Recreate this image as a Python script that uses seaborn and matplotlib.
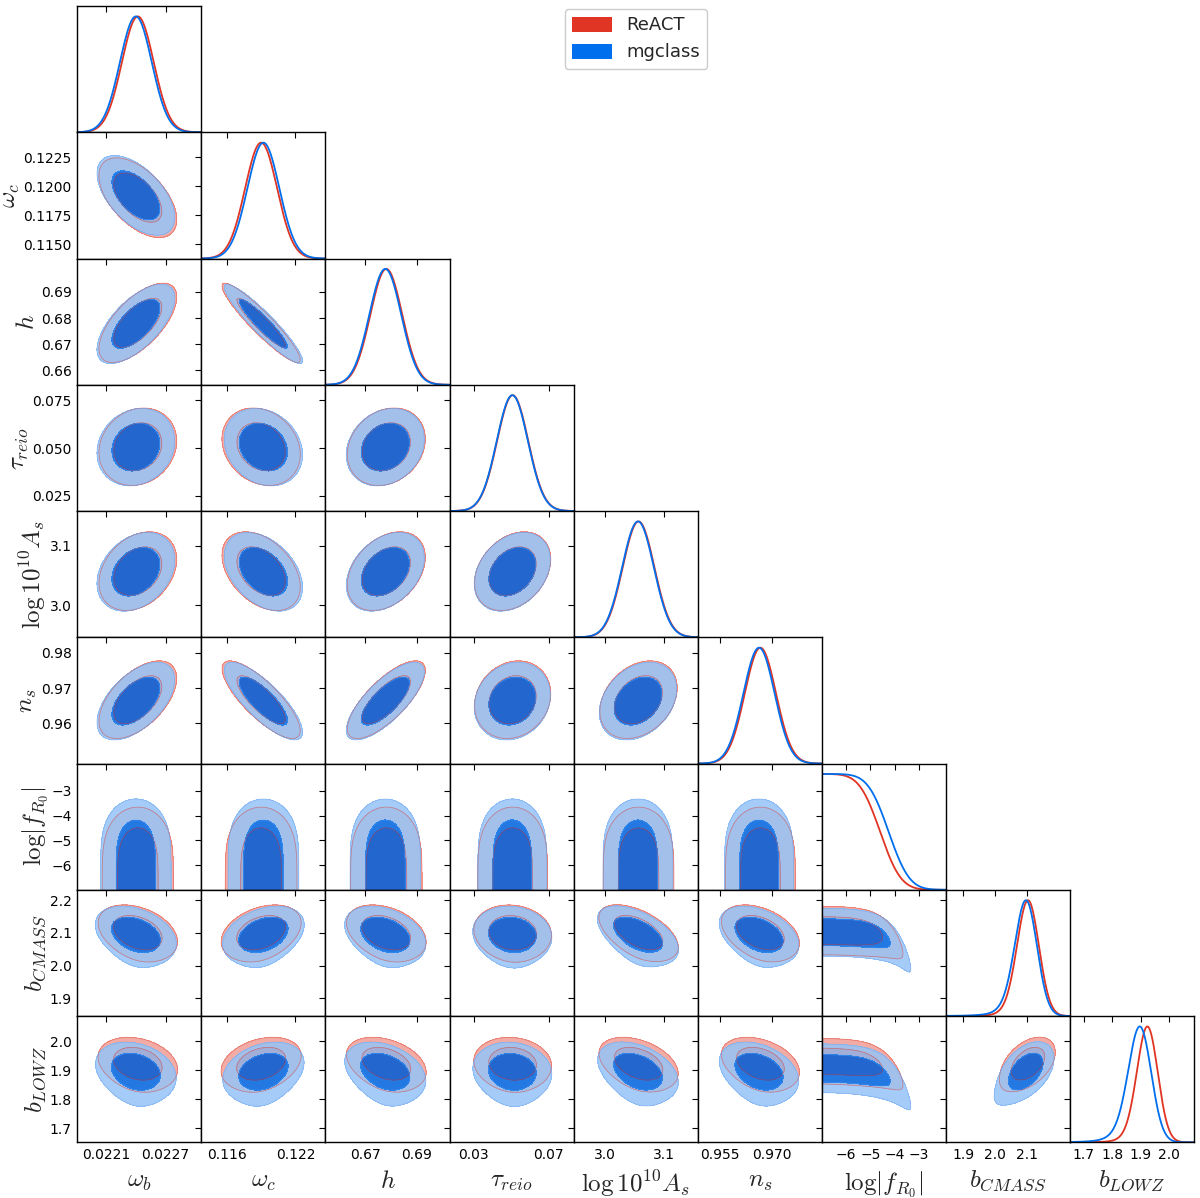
import math
import numpy as np
import matplotlib
matplotlib.use('Agg')
import matplotlib.pyplot as plt
from matplotlib.patches import Patch
import seaborn as sns

# parameter names, axis ranges and ticks
labels = [r'$\omega_b$', r'$\omega_c$', r'$h$', r'$\tau_{reio}$', r'$\log10^{10}A_s$',
          r'$n_s$', r'$\log|f_{R_0}|$', r'$b_{CMASS}$', r'$b_{LOWZ}$']
limits = [(0.02181, 0.02306), (0.11377, 0.12463), (0.6545, 0.7028), (0.0170, 0.0832),
          (2.946, 3.158), (0.9486, 0.9844), (-7.0, -1.9), (1.846, 2.232), (1.652, 2.086)]
xticks = [[0.0221, 0.0227], [0.116, 0.122], [0.67, 0.69], [0.03, 0.07], [3.0, 3.1],
          [0.955, 0.970], [-6, -5, -4, -3], [1.9, 2.0, 2.1], [1.7, 1.8, 1.9, 2.0]]
xticklabels = [['0.0221', '0.0227'], ['0.116', '0.122'], ['0.67', '0.69'], ['0.03', '0.07'],
               ['3.0', '3.1'], ['0.955', '0.970'], ['\u22126', '\u22125', '\u22124', '\u22123'],
               ['1.9', '2.0', '2.1'], ['1.7', '1.8', '1.9', '2.0']]
yticks = [[], [0.1150, 0.1175, 0.1200, 0.1225], [0.66, 0.67, 0.68, 0.69], [0.025, 0.050, 0.075],
          [3.0, 3.1], [0.96, 0.97, 0.98], [-6, -5, -4, -3], [1.9, 2.0, 2.1, 2.2], [1.7, 1.8, 1.9, 2.0]]
yticklabels = [[], ['0.1150', '0.1175', '0.1200', '0.1225'], ['0.66', '0.67', '0.68', '0.69'],
               ['0.025', '0.050', '0.075'], ['3.0', '3.1'], ['0.96', '0.97', '0.98'],
               ['\u22126', '\u22125', '\u22124', '\u22123'], ['1.9', '2.0', '2.1', '2.2'],
               ['1.7', '1.8', '1.9', '2.0']]

models = ['ReACT', 'mgclass']
line_colors = ['#E03424', '#006FED']
fill_colors = [('#F2ACA5', '#E03424'), ('#96C4F8', '#006FED')]
fill_alpha = [1.0, 0.85]

# posterior summaries (log|fR0| entry unused: it has its own profile below)
react_mean = [0.02242, 0.1190, 0.6782, 0.0507, 3.057, 0.9667, 0.0, 2.108, 1.932]
mgclass_mean = [0.02240, 0.1192, 0.6778, 0.0505, 3.056, 0.9663, 0.0, 2.103, 1.908]
react_sigma = [0.000160, 0.00140, 0.0062, 0.0083, 0.027, 0.0045, 1.0, 0.033, 0.035]
mgclass_sigma = [0.000160, 0.00140, 0.0062, 0.0083, 0.027, 0.0045, 1.0, 0.033, 0.038]

# log|fR0|: flat from the prior edge, falls to half at fr0_half
fr0_half = [-4.6, -4.25]
fr0_width = [0.95, 0.95]

# biases drift down as log|fR0| grows
bias_drop_react = [0.12, 0.13]
bias_drop_mgclass = [0.12, 0.14]
bias_drop_scale = [0.7, 0.8]
bias_drop_pivot = -3.3

corr = [
    [1.0],
    [-0.55, 1.0],
    [0.65, -0.93, 1.0],
    [0.15, -0.20, 0.20, 1.0],
    [0.30, -0.40, 0.35, 0.30, 1.0],
    [0.55, -0.80, 0.75, 0.15, 0.30, 1.0],
    [0.0, 0.0, 0.0, 0.0, 0.0, 0.0, 1.0],
    [-0.35, 0.35, -0.35, -0.10, -0.55, -0.40, 0.0, 1.0],
    [-0.25, 0.30, -0.35, -0.10, -0.40, -0.35, 0.0, 0.40, 1.0],
]

means = [react_mean, mgclass_mean]
sigmas = [react_sigma, mgclass_sigma]
drops = [bias_drop_react, bias_drop_mgclass]
FR = 6
BIAS = [7, 8]
n = len(labels)

erfc_v = np.vectorize(math.erfc)
f_grid = np.linspace(-7.0, -1.9, 140)


def fr0_profile(f, m):
    return 0.5 * erfc_v((f - fr0_half[m]) / fr0_width[m])


def cond_mean(k, f, m):
    mu = means[m][k]
    if k in BIAS:
        b = BIAS.index(k)
        mu = mu - drops[m][b] * np.exp((f - bias_drop_pivot) / bias_drop_scale[b])
    return mu


def density2d(i, j, m, X, Y):
    # x axis: parameter j, y axis: parameter i
    if j == FR:
        return fr0_profile(X, m) * np.exp(-0.5 * ((Y - cond_mean(i, X, m)) / sigmas[m][i]) ** 2)
    if i == FR:
        return fr0_profile(Y, m) * np.exp(-0.5 * ((X - cond_mean(j, Y, m)) / sigmas[m][j]) ** 2)
    r = corr[i][j]
    si, sj = sigmas[m][i], sigmas[m][j]
    if i not in BIAS and j not in BIAS:
        dx = (X - means[m][j]) / sj
        dy = (Y - means[m][i]) / si
        return np.exp(-0.5 * (dx * dx - 2 * r * dx * dy + dy * dy) / (1 - r * r))
    Z = np.zeros_like(X)
    for f, w in zip(f_grid, fr0_profile(f_grid, m)):
        dx = (X - cond_mean(j, f, m)) / sj
        dy = (Y - cond_mean(i, f, m)) / si
        Z += w * np.exp(-0.5 * (dx * dx - 2 * r * dx * dy + dy * dy) / (1 - r * r))
    return Z


def density1d(k, m, x):
    if k == FR:
        return fr0_profile(x, m)
    if k not in BIAS:
        return np.exp(-0.5 * ((x - means[m][k]) / sigmas[m][k]) ** 2)
    p = np.zeros_like(x)
    for f, w in zip(f_grid, fr0_profile(f_grid, m)):
        p += w * np.exp(-0.5 * ((x - cond_mean(k, f, m)) / sigmas[m][k]) ** 2)
    return p


def contour_levels(Z, fracs=(0.95, 0.68)):
    z = np.sort(Z.ravel())[::-1]
    c = np.cumsum(z)
    c /= c[-1]
    return [z[min(np.searchsorted(c, fr), len(z) - 1)] for fr in fracs]


sns.set_theme(style='white')
plt.rcParams['font.family'] = ['DejaVu Sans']
plt.rcParams['mathtext.fontset'] = 'cm'
plt.rcParams['axes.edgecolor'] = 'black'
plt.rcParams['axes.linewidth'] = 1.0
plt.rcParams['xtick.labelsize'] = 10
plt.rcParams['ytick.labelsize'] = 10

fig, axes = plt.subplots(n, n, figsize=(12, 11.98), dpi=100)
fig.subplots_adjust(left=0.0644, right=0.995, top=0.995, bottom=0.0465, wspace=0, hspace=0)

for i in range(n):
    for j in range(n):
        ax = axes[i, j]
        if j > i:
            ax.axis('off')
            continue
        ax.set_xlim(limits[j])
        if i == j:
            x = np.linspace(limits[j][0], limits[j][1], 400)
            for m in range(2):
                p = density1d(j, m, x)
                sns.lineplot(x=x, y=p / p.max(), ax=ax, color=line_colors[m], lw=1.3)
            ax.set_ylim(0, 1.09)
            ax.set_yticks([])
        else:
            X, Y = np.meshgrid(np.linspace(limits[j][0], limits[j][1], 150),
                               np.linspace(limits[i][0], limits[i][1], 150))
            dens = []
            for m in range(2):
                Z = density2d(i, j, m, X, Y)
                l95, l68 = contour_levels(Z)
                ax.contourf(X, Y, Z, levels=[l95, l68, Z.max() * 1.01],
                            colors=list(fill_colors[m]), alpha=fill_alpha[m])
                dens.append((Z, l95, l68))
            for m, edge in enumerate(['#E03424', '#5E9BEA']):
                Z, l95, l68 = dens[m]
                ax.contour(X, Y, Z, levels=[l95, l68], colors=edge,
                           linewidths=0.6, alpha=0.45)
            ax.set_ylim(limits[i])
            ax.set_yticks(yticks[i])
            ax.set_yticklabels(yticklabels[i])
        ax.set_xticks(xticks[j])
        ax.set_xticklabels(xticklabels[j])
        ax.tick_params(direction='in', length=4, width=0.8, top=True,
                       right=(i != j), colors='black', pad=4)
        ax.set_xlabel('')
        ax.set_ylabel('')
        if i < n - 1:
            ax.tick_params(labelbottom=False)
        else:
            ax.set_xlabel(labels[j], fontsize=18, labelpad=5)
        if j > 0 or i == 0:
            ax.tick_params(labelleft=False)
        else:
            ax.set_ylabel(labels[i], fontsize=18, labelpad=1)

handles = [Patch(facecolor=c, edgecolor='none', label=lab) for c, lab in zip(line_colors, models)]
fig.legend(handles=handles, loc='upper center', bbox_to_anchor=(0.53, 1.0), fontsize=13,
           handlelength=2.2, handleheight=0.9, frameon=True, fancybox=True,
           edgecolor='#cccccc', framealpha=1.0)

fig.savefig('out.png', dpi=100, facecolor='white')
